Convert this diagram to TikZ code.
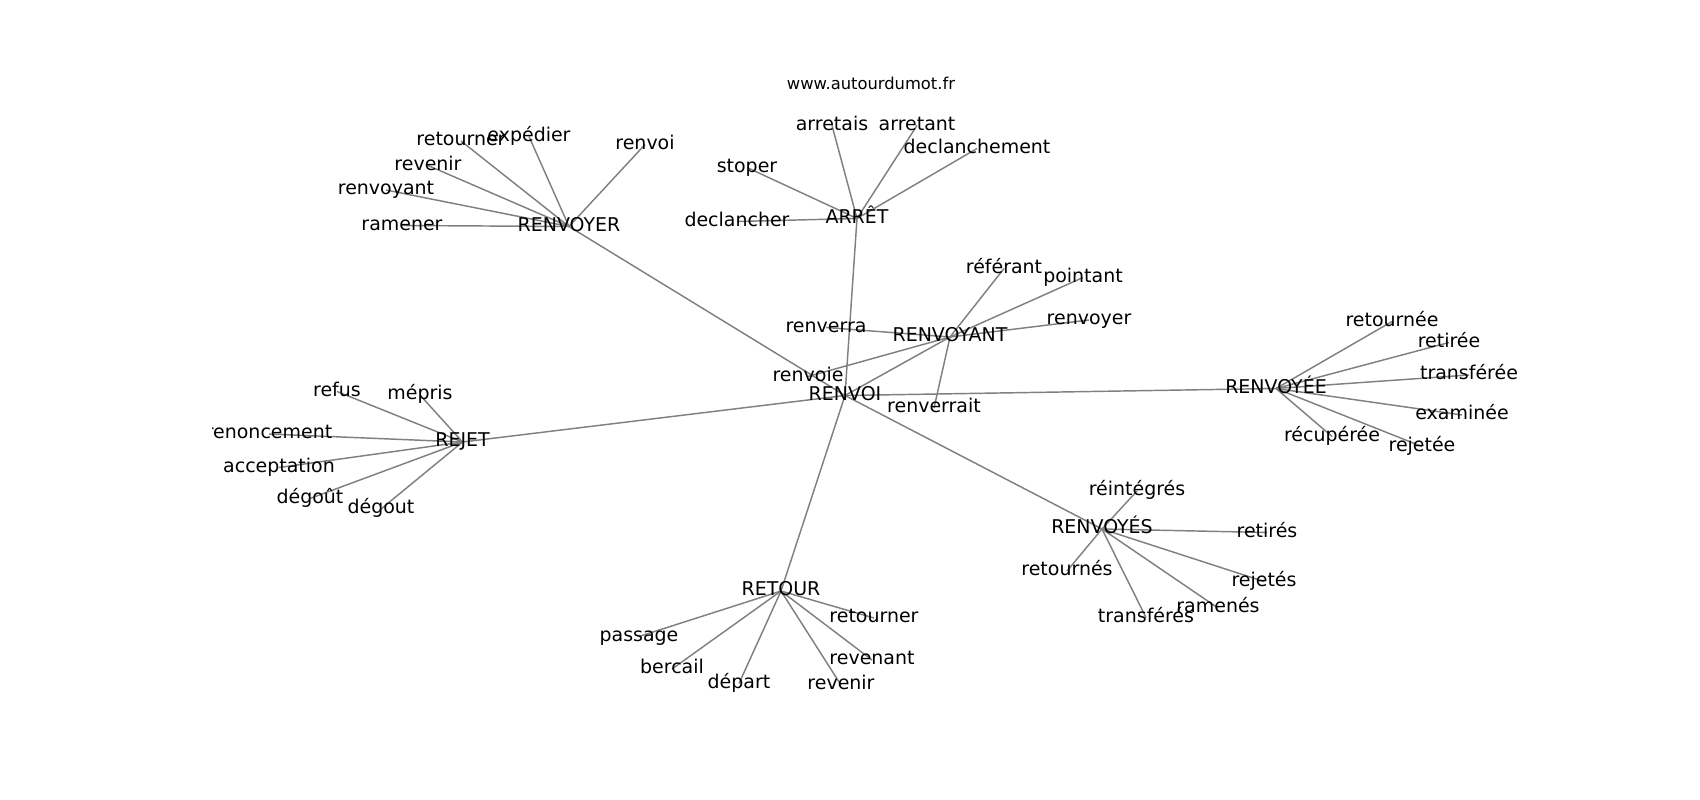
\documentclass[tikz,border=0pt]{standalone}
\usepackage{fontspec}
\setmainfont{DejaVu Sans}
\pgfdeclarelayer{background}
\pgfsetlayers{background,main}
\tikzset{
  lbl/.style={font=\fontsize{13.7}{16}\selectfont, inner sep=0pt, text height=10.4pt, text depth=3.2pt, anchor=center},
  ttl/.style={font=\fontsize{11.8}{14}\selectfont, inner sep=0pt, anchor=center},
  edge/.style={draw=black!50, line width=1.05pt}
}
\begin{document}
\begin{tikzpicture}[x=0.01in, y=-0.01in]
\useasboundingbox (0,0) rectangle (1700,800);
\node[ttl] (title) at (871,83) {www.autourdumot.fr};
\begin{scope}
\clip (212.5,96) rectangle (1530,712);
% hubs
\node[lbl] (renvoiH) at (845,395.5) {RENVOI};
\node[lbl] (renvoyerH) at (569,226.5) {RENVOYER};
\node[lbl] (arret) at (857,218.5) {ARRÊT};
\node[lbl] (renvoyantH) at (950,337) {RENVOYANT};
\node[lbl] (renvoyee) at (1276,388.5) {RENVOYÉE};
\node[lbl] (renvoyes) at (1102,529) {RENVOYÉS};
\node[lbl] (retour) at (781,591) {RETOUR};
\node[lbl] (rejet) at (462.5,442) {REJET};
% RENVOYER leaves
\node[lbl] (ramener) at (402,225.5) {ramener};
\node[lbl] (renvoyantL) at (386,190) {renvoyant};
\node[lbl] (revenirA) at (428,165.5) {revenir};
\node[lbl] (retournerA) at (461,141) {retourner};
\node[lbl] (expedier) at (529,136.5) {expédier};
\node[lbl] (renvoiL) at (645,144.5) {renvoi};
% ARRET leaves
\node[lbl] (declancher) at (737,221.5) {declancher};
\node[lbl] (stoper) at (747,167.5) {stoper};
\node[lbl] (arretais) at (832,125.5) {arretais};
\node[lbl] (arretant) at (917,125.5) {arretant};
\node[lbl] (declanchement) at (977,148.5) {declanchement};
% RENVOYANT leaves
\node[lbl] (renverra) at (826,327.5) {renverra};
\node[lbl] (renvoie) at (808,376.5) {renvoie};
\node[lbl] (renverrait) at (934,408) {renverrait};
\node[lbl] (referant) at (1004,268.5) {référant};
\node[lbl] (pointant) at (1083,277.5) {pointant};
\node[lbl] (renvoyerL) at (1089,320) {renvoyer};
% RENVOYEE leaves
\node[lbl] (retournee) at (1392,321.5) {retournée};
\node[lbl] (retiree) at (1449,342.5) {retirée};
\node[lbl] (transferee) at (1469,375) {transférée};
\node[lbl] (examinee) at (1462,415) {examinée};
\node[lbl] (recuperee) at (1332,436.5) {récupérée};
\node[lbl] (rejetee) at (1422,446.5) {rejetée};
% RENVOYES leaves
\node[lbl] (reintegres) at (1137,491) {réintégrés};
\node[lbl] (retires) at (1267,532.5) {retirés};
\node[lbl] (retournes) at (1067,571) {retournés};
\node[lbl] (rejetes) at (1264,581.5) {rejetés};
\node[lbl] (ramenes) at (1218,608) {ramenés};
\node[lbl] (transferes) at (1146,617.5) {transférés};
% RETOUR leaves
\node[lbl] (passage) at (639,636.5) {passage};
\node[lbl] (bercail) at (672,669) {bercail};
\node[lbl] (depart) at (739,683.5) {départ};
\node[lbl] (revenirB) at (841,685) {revenir};
\node[lbl] (revenant) at (872,660) {revenant};
\node[lbl] (retournerB) at (874,618) {retourner};
% REJET leaves
\node[lbl] (refus) at (337,391.5) {refus};
\node[lbl] (mepris) at (420,395) {mépris};
\node[lbl] (renoncement) at (269,434) {renoncement};
\node[lbl] (acceptation) at (279,467.5) {acceptation};
\node[lbl] (degoutA) at (310,498.5) {dégoût};
\node[lbl] (degoutB) at (381,509) {dégout};
\end{scope}
\begin{pgfonlayer}{background}
\fill[white] (0,0) rectangle (1700,800);
\foreach \a/\b in {
  renvoiH/renvoyerH, renvoiH/arret, renvoiH/renvoyantH, renvoiH/renvoyee,
  renvoiH/renvoyes, renvoiH/retour, renvoiH/rejet,
  renvoyerH/ramener, renvoyerH/renvoyantL, renvoyerH/revenirA, renvoyerH/retournerA,
  renvoyerH/expedier, renvoyerH/renvoiL,
  arret/declancher, arret/stoper, arret/arretais, arret/arretant, arret/declanchement,
  renvoyantH/renverra, renvoyantH/renvoie, renvoyantH/renverrait, renvoyantH/referant,
  renvoyantH/pointant, renvoyantH/renvoyerL,
  renvoyee/retournee, renvoyee/retiree, renvoyee/transferee, renvoyee/examinee,
  renvoyee/recuperee, renvoyee/rejetee,
  renvoyes/reintegres, renvoyes/retires, renvoyes/retournes, renvoyes/rejetes,
  renvoyes/ramenes, renvoyes/transferes,
  retour/passage, retour/bercail, retour/depart, retour/revenirB, retour/revenant,
  retour/retournerB,
  rejet/refus, rejet/mepris, rejet/renoncement, rejet/acceptation, rejet/degoutA,
  rejet/degoutB}
  \draw[edge] (\a.center) -- (\b.center);
\end{pgfonlayer}
\end{tikzpicture}
\end{document}
